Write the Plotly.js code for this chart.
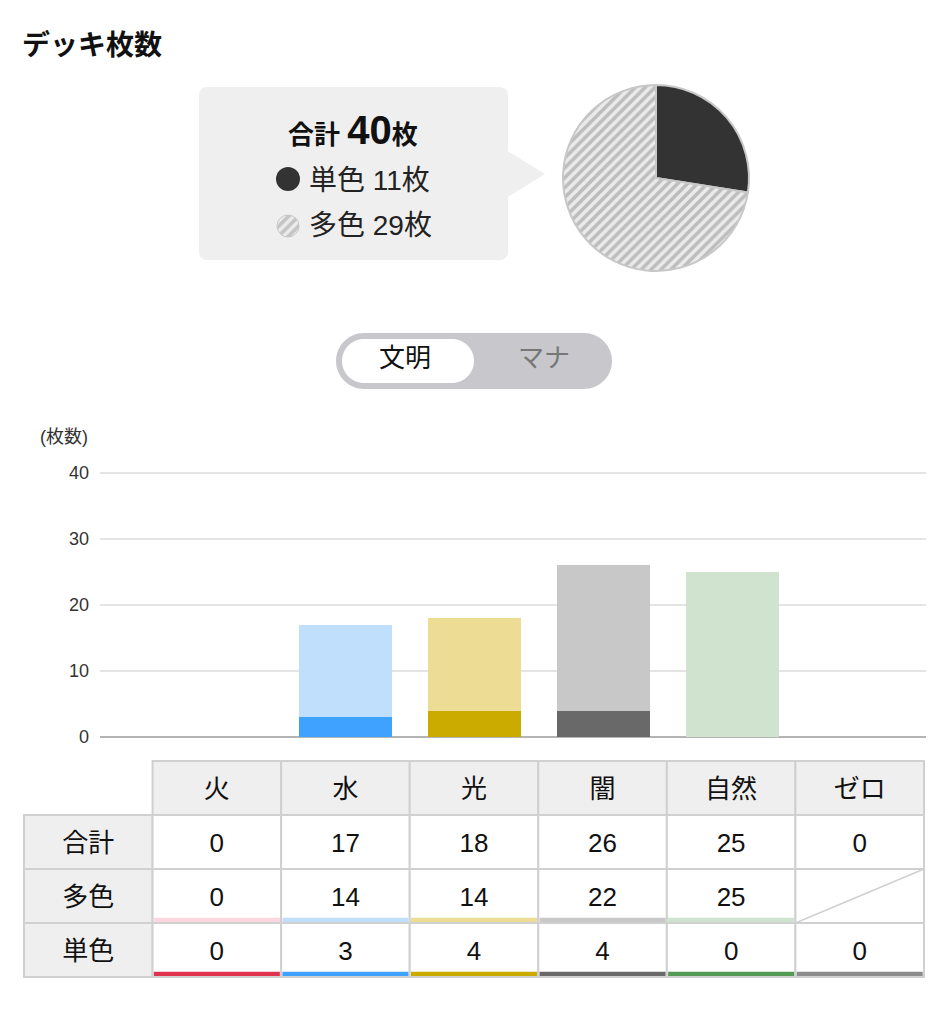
<!DOCTYPE html>
<html>
<head>
<meta charset="utf-8">
<script src="https://cdn.plot.ly/plotly-3.0.1.min.js"></script>
<style>
  body { margin: 0; background: #fff; }
  #chart { width: 948px; height: 1014px; }
</style>
</head>
<body>
<div id="chart"></div>
<script>
// civilisation breakdown
const civs = ["火", "水", "光", "闇", "自然", "ゼロ"];
const multiCounts = [0, 14, 14, 22, 25, null];
const singleCounts = [0, 3, 4, 4, 0, 0];
const multiColors = ["#ffd6e0", "#bfdffc", "#ecdc94", "#c8c8c8", "#cfe3cf", "#ffffff"];
const singleColors = ["#e0324f", "#40a2ff", "#ccab00", "#696969", "#549954", "#8c8c8c"];
const rowLabels = ["合計", "多色", "単色"];

// deck summary (pie)
const deckKinds = ["単色", "多色"];
const deckCounts = [11, 29];

const yTicks = [0, 10, 20, 30, 40];
const toggleLabels = ["文明", "マナ"];

const W = 948, H = 1014;
const FONT = "Liberation Sans, Noto Sans CJK JP, sans-serif";
const px = x => x / W;
const py = y => 1 - y / H;

function roundRect(x0, y0, x1, y1, r) {
    const k = 0.5523 * r;
    const P = (x, y) => px(x) + "," + py(y);
    return "M" + P(x0 + r, y0) + " L" + P(x1 - r, y0) +
        " C" + P(x1 - r + k, y0) + " " + P(x1, y0 + r - k) + " " + P(x1, y0 + r) +
        " L" + P(x1, y1 - r) +
        " C" + P(x1, y1 - r + k) + " " + P(x1 - r + k, y1) + " " + P(x1 - r, y1) +
        " L" + P(x0 + r, y1) +
        " C" + P(x0 + r - k, y1) + " " + P(x0, y1 - r + k) + " " + P(x0, y1 - r) +
        " L" + P(x0, y0 + r) +
        " C" + P(x0, y0 + r - k) + " " + P(x0 + r - k, y0) + " " + P(x0 + r, y0) + " Z";
}

const totals = civs.map((c, i) => singleCounts[i] + (multiCounts[i] || 0));
const deckTotal = deckCounts.reduce((a, b) => a + b, 0);

/* stacked bars */
let singleBar = {
    type: "bar", x: civs, y: singleCounts, width: 0.72,
    marker: { color: singleColors },
    xaxis: "x", yaxis: "y", hoverinfo: "skip"
};
let multiBar = {
    type: "bar", x: civs, y: multiCounts, width: 0.72,
    marker: { color: multiColors },
    xaxis: "x", yaxis: "y", hoverinfo: "skip"
};

/* pie + legend icons */
const hatch = { shape: ["", "/"], fgcolor: ["#333333", "#bdbdbd"], bgcolor: ["#333333", "#ebebeb"], size: 7, solidity: 0.5 };
let pie = {
    type: "pie", values: deckCounts, labels: deckKinds, sort: false, direction: "clockwise",
    textinfo: "none", hoverinfo: "skip",
    marker: { colors: ["#333333", "#ebebeb"], pattern: hatch, line: { color: "#c8c8c8", width: 2 } },
    domain: { x: [px(563), px(749)], y: [py(271), py(85)] }
};
let iconSingle = {
    type: "pie", values: [deckCounts[0]], labels: [deckKinds[0]], textinfo: "none", hoverinfo: "skip",
    marker: { colors: ["#333333"], line: { width: 0 } },
    domain: { x: [px(276), px(300)], y: [py(191), py(167)] }
};
let iconMulti = {
    type: "pie", values: [deckCounts[1]], labels: [deckKinds[1]], textinfo: "none", hoverinfo: "skip",
    marker: { colors: ["#ebebeb"], pattern: { shape: "/", fgcolor: "#c4c4c4", bgcolor: "#ebebeb", size: 7, solidity: 0.5 }, line: { color: "#c8c8c8", width: 1 } },
    domain: { x: [px(277), px(299)], y: [py(237), py(215)] }
};

/* table: column -1 = row labels, row 0 = header */
const textNudge = 0.07; // glyph centring
let tx = [], ty = [], tt = [];
civs.forEach((c, i) => { tx.push(i); ty.push(0 + textNudge); tt.push(c); });
rowLabels.forEach((r, j) => { tx.push(-1); ty.push(j + 1 + textNudge); tt.push(r); });
const rows = [totals, multiCounts, singleCounts];
rows.forEach((vals, j) => vals.forEach((v, i) => {
    if (v === null) return;
    tx.push(i); ty.push(j + 1 + textNudge); tt.push(String(v));
}));
let tableText = {
    type: "scatter", mode: "text", x: tx, y: ty, text: tt,
    textfont: { size: 26, color: "#111", family: FONT },
    xaxis: "x2", yaxis: "y2", hoverinfo: "skip", cliponaxis: false
};

let shapes = [];
// callout and toggle
shapes.push({ type: "path", xref: "paper", yref: "paper", layer: "below", path: roundRect(199, 87, 508, 260, 8), fillcolor: "#efefef", line: { width: 0 } });
shapes.push({ type: "path", xref: "paper", yref: "paper", layer: "below",
    path: "M" + px(506) + "," + py(150) + " L" + px(545) + "," + py(174) + " L" + px(506) + "," + py(198) + " Z",
    fillcolor: "#efefef", line: { width: 0 } });
shapes.push({ type: "path", xref: "paper", yref: "paper", layer: "below", path: roundRect(336, 333, 612, 389, 28), fillcolor: "#c8c8cc", line: { width: 0 } });
shapes.push({ type: "path", xref: "paper", yref: "paper", layer: "below", path: roundRect(342, 339, 474, 383, 22), fillcolor: "#ffffff", line: { width: 0 } });

// table cells
for (let r = 0; r <= rowLabels.length; r++) {
    for (let c = -1; c < civs.length; c++) {
        if (r === 0 && c === -1) continue;
        shapes.push({
            type: "rect", xref: "x2", yref: "y2", layer: "below",
            x0: c - 0.5, x1: c + 0.5, y0: r - 0.5, y1: r + 0.5,
            fillcolor: (r === 0 || c === -1) ? "#efefef" : "#ffffff",
            line: { color: "#d0d0d0", width: 2 }
        });
    }
}
// colour underlines
civs.forEach((c, i) => {
    if (multiCounts[i] !== null) {
        shapes.push({ type: "rect", xref: "x2", yref: "y2", x0: i - 0.49, x1: i + 0.49, y0: 2.48 - 0.075, y1: 2.48, fillcolor: multiColors[i], line: { width: 0 } });
    } else {
        shapes.push({ type: "line", xref: "x2", yref: "y2", x0: i - 0.5, y0: 2.5, x1: i + 0.5, y1: 1.5, line: { color: "#d0d0d0", width: 1.5 } });
    }
    shapes.push({ type: "rect", xref: "x2", yref: "y2", x0: i - 0.49, x1: i + 0.49, y0: 3.48 - 0.075, y1: 3.48, fillcolor: singleColors[i], line: { width: 0 } });
});

let annotations = [
    { xref: "paper", yref: "paper", x: px(353), y: py(130), xanchor: "center", yanchor: "middle", showarrow: false,
      text: "<b>合計 <span style='font-size:40px'>" + deckTotal + "</span>枚</b>", font: { size: 26, color: "#111" } },
    { xref: "paper", yref: "paper", x: px(307), y: py(180), xanchor: "left", yanchor: "middle", showarrow: false,
      text: deckKinds[0] + " " + deckCounts[0] + "枚", font: { size: 28, color: "#222" } },
    { xref: "paper", yref: "paper", x: px(307), y: py(225), xanchor: "left", yanchor: "middle", showarrow: false,
      text: deckKinds[1] + " " + deckCounts[1] + "枚", font: { size: 28, color: "#222" } },
    { xref: "paper", yref: "paper", x: px(405), y: py(358), xanchor: "center", yanchor: "middle", showarrow: false,
      text: toggleLabels[0], font: { size: 26, color: "#111" } },
    { xref: "paper", yref: "paper", x: px(544), y: py(358), xanchor: "center", yanchor: "middle", showarrow: false,
      text: toggleLabels[1], font: { size: 26, color: "#777" } },
    { xref: "paper", yref: "paper", x: px(38), y: py(437), xanchor: "left", yanchor: "middle", showarrow: false,
      text: "(枚数)", font: { size: 18, color: "#333" } }
];

const e = 0.02;
let layout = {
    width: W, height: H,
    margin: { l: 0, r: 0, t: 0, b: 0 },
    paper_bgcolor: "#ffffff", plot_bgcolor: "rgba(0,0,0,0)",
    font: { family: FONT, color: "#222" },
    showlegend: false, hovermode: false,
    barmode: "stack",
    title: { text: "<b>デッキ枚数</b>", font: { size: 28, color: "#111" }, x: px(22), xanchor: "left", y: py(45), yanchor: "middle", yref: "container" },
    xaxis: { domain: [px(100), px(926)], type: "category", range: [-0.9, 5.5], showticklabels: false, showgrid: false, zeroline: false, fixedrange: true },
    yaxis: { domain: [py(737), py(471)], range: [0, 40.3], tickvals: yTicks, gridcolor: "#e4e4e4", gridwidth: 2,
             zeroline: true, zerolinecolor: "#b4b4b4", zerolinewidth: 2, tickfont: { size: 18, color: "#333" },
             ticklabelstandoff: 10, fixedrange: true },
    xaxis2: { domain: [px(24 - 128.57 * e), px(924 + 128.57 * e)], range: [-1.5 - e, 5.5 + e], anchor: "y2",
              showgrid: false, zeroline: false, showticklabels: false, fixedrange: true },
    yaxis2: { domain: [py(977 + 54 * e), py(761 - 54 * e)], range: [3.5 + e, -0.5 - e], anchor: "x2",
              showgrid: false, zeroline: false, showticklabels: false, fixedrange: true },
    shapes: shapes,
    annotations: annotations
};

Plotly.newPlot("chart", [singleBar, multiBar, pie, iconSingle, iconMulti, tableText], layout, { staticPlot: true, displayModeBar: false });
</script>
</body>
</html>
